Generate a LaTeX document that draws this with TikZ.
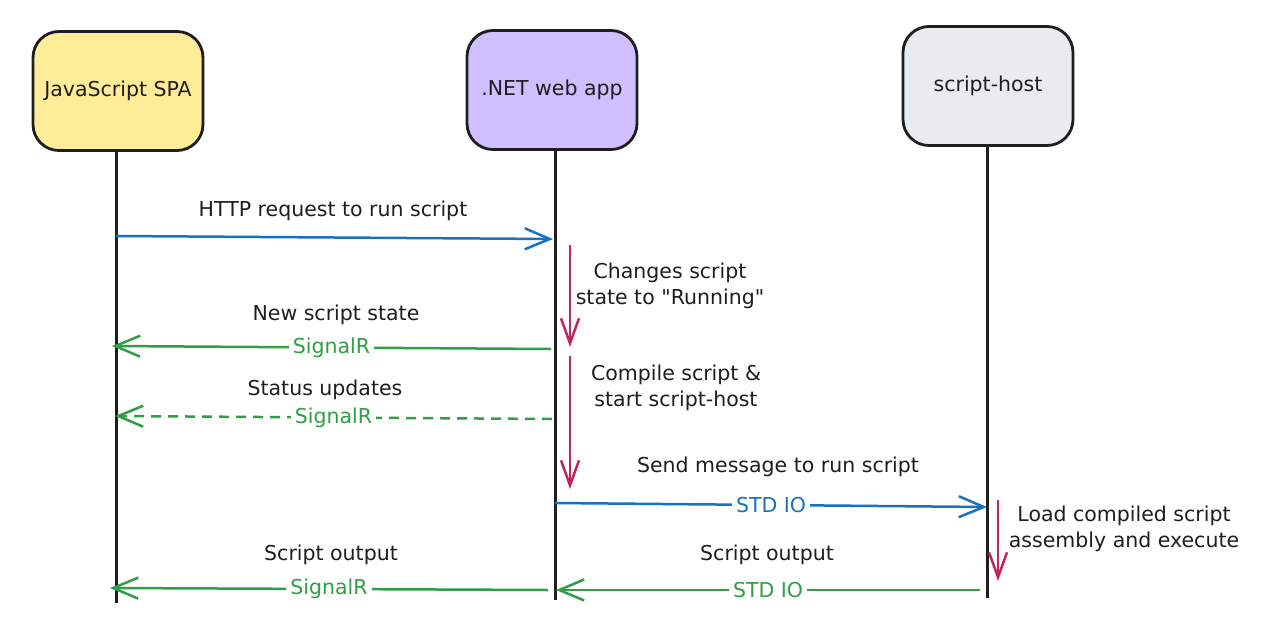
\documentclass[tikz,border=0pt]{standalone}
\usepackage{fontspec}
\setmainfont{DejaVu Sans}
\usetikzlibrary{arrows.meta}
\definecolor{cblue}{HTML}{1971C2}
\definecolor{cgreen}{HTML}{2F9E44}
\definecolor{cred}{HTML}{C2255C}
\definecolor{cink}{HTML}{1E1E1E}
\definecolor{cyellow}{HTML}{FFEC99}
\definecolor{cviolet}{HTML}{D0BFFF}
\definecolor{cgray}{HTML}{E9ECEF}
\tikzset{
  actor/.style={draw=cink, line width=2.8pt, rounded corners=26pt, minimum width=170pt, minimum height=119pt, font=\fontsize{20.5}{24}\selectfont, text=cink},
  lifeline/.style={draw=cink, line width=3pt},
  msg/.style={line width=2.5pt, -{Straight Barb[length=25pt,width=21pt,line width=2.5pt]}},
  proc/.style={line width=2.5pt, -{Straight Barb[length=25pt,width=18pt,line width=2.5pt]}},
  txt/.style={font=\fontsize{20.5}{26}\selectfont, text=cink, align=center},
  onl/.style={font=\fontsize{20.5}{24}\selectfont, fill=white, inner sep=4pt},
}
\begin{document}
\begin{tikzpicture}[x=1pt,y=-1pt]
\useasboundingbox[fill=white] (0,0) rectangle (1273,637);
% actors
\node[actor, fill=cyellow] (js) at (118,91) {JavaScript SPA};
\node[actor, fill=cviolet] (net) at (552,90) {.NET web app};
\node[actor, fill=cgray] (sh) at (988,86) {script-host};
% lifeline ends
\coordinate (jsE) at (116,603);
\coordinate (netE) at (555,600);
\coordinate (shE) at (987,598);
\draw[lifeline] (js.south -| jsE) -- (jsE);
\draw[lifeline] (net.south -| netE) -- (netE);
\draw[lifeline] (sh.south -| shE) -- (shE);
% message points
\coordinate (m1s) at (116,236); \coordinate (m1e) at (553,239);
\coordinate (m2s) at (551,349); \coordinate (m2e) at (112,346);
\coordinate (m3s) at (552,419); \coordinate (m3e) at (115,416);
\coordinate (m4s) at (555,503); \coordinate (m4e) at (987,507);
\coordinate (m5s) at (980,590); \coordinate (m5e) at (556,590);
\coordinate (m6s) at (548,590); \coordinate (m6e) at (110,588);
\coordinate (p1s) at (570,245); \coordinate (p1e) at (570,347);
\coordinate (p2s) at (570,356); \coordinate (p2e) at (570,489);
\coordinate (p3s) at (998,500); \coordinate (p3e) at (998,581);
% messages
\draw[msg, cblue] (m1s) -- (m1e);
\node[txt] (l1) at (333,211) {HTTP request to run script};

\draw[msg, cgreen] (m2s) -- node[onl, text=cgreen] (s1) {SignalR} (m2e);
\node[txt] (l2) at (336,315) {New script state};

\draw[msg, cgreen, dash pattern=on 10pt off 7pt] (m3s) -- node[onl, text=cgreen] (s2) {SignalR} (m3e);
\node[txt] (l3) at (325,390) {Status updates};

\draw[msg, cblue] (m4s) -- node[onl, text=cblue] (s3) {STD IO} (m4e);
\node[txt] (l4) at (778,467) {Send message to run script};

\draw[msg, cgreen] (m5s) -- node[onl, text=cgreen] (s4) {STD IO} (m5e);
\node[txt] (l5) at (767,555) {Script output};

\draw[msg, cgreen] (m6s) -- node[onl, text=cgreen] (s5) {SignalR} (m6e);
\node[txt] (l6) at (331,555) {Script output};

% processing arrows
\draw[proc, cred] (p1s) -- (p1e);
\node[txt] (t1) at (670,286) {Changes script\\state to \textquotedbl Running\textquotedbl};
\draw[proc, cred] (p2s) -- (p2e);
\node[txt] (t2) at (676,388) {Compile script \&\\start script-host};
\draw[proc, cred] (p3s) -- (p3e);
\node[txt] (t3) at (1124,529) {Load compiled script\\assembly and execute};
\end{tikzpicture}
\end{document}
